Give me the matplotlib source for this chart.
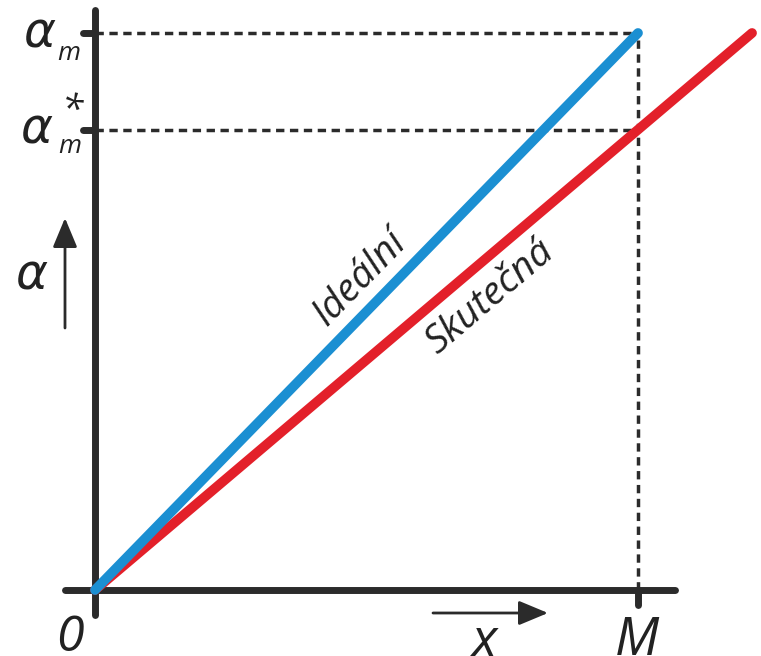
import matplotlib.pyplot as plt
import numpy as np

# line endpoints (x in units of M, alpha in units of alpha_m)
ideal_x = [0.0, 1.0]
ideal_alpha = [0.0, 1.0]
real_x = [0.0, 1.21]
real_alpha = [0.0, 1.0]
alpha_m = 1.0
alpha_m_star = 0.826
x_M = 1.0

AXIS = "#2b2b2b"
TEXT = "#222222"
BLUE = "#1b8fd2"
RED = "#e3202a"

# pixel -> data helpers (origin at pixel (95, 590), M = 543 px, alpha_m = 557 px)
def px(x):
    return (x - 95) / 543


def py(y):
    return (590 - y) / 557


fig = plt.figure(figsize=(7.61, 6.56), dpi=100)
ax = fig.add_axes([0, 0, 1, 1])
ax.set_xlim(px(0), px(761))
ax.set_ylim(py(656), py(0))
ax.axis("off")

# guide lines
dash = dict(color=AXIS, lw=2.5, ls=(0, (2.4, 1.6)), zorder=1)
ax.plot([0, x_M], [alpha_m, alpha_m], **dash)
ax.plot([0, x_M], [alpha_m_star, alpha_m_star], **dash)
ax.plot([x_M, x_M], [0, alpha_m], **dash)

# axes with ticks
solid = dict(color=AXIS, lw=5, solid_capstyle="round", zorder=3)
ax.plot([0, 0], [py(615), py(10)], **solid)
ax.plot([px(65), px(675)], [0, 0], **solid)
for y in (alpha_m, alpha_m_star):
    ax.plot([px(83), 0], [y, y], **solid)
ax.plot([x_M, x_M], [0, py(605)], **solid)

# characteristics
ax.plot(real_x, real_alpha, color=RED, lw=7, solid_capstyle="round", zorder=4)
ax.plot(ideal_x, ideal_alpha, color=BLUE, lw=7, solid_capstyle="round", zorder=4)

# direction arrows
arrow = dict(arrowstyle="-|>,head_length=0.6,head_width=0.25", color=AXIS, lw=2,
             mutation_scale=30, shrinkA=0, shrinkB=0)
ax.annotate("", xy=(px(65), py(218)), xytext=(px(65), py(328)), arrowprops=arrow)
ax.annotate("", xy=(px(548), py(613)), xytext=(px(433), py(613)), arrowprops=arrow)

greek = dict(fontfamily="DejaVu Sans", style="italic", color=TEXT, va="baseline", ha="left")
lbl = dict(fontfamily="Open Sans", style="italic", color=TEXT)

# alpha_m and alpha_m* tick labels
ax.text(px(24), py(47), "α", fontsize=35, **greek)
ax.text(px(57), py(60), "m", fontsize=19, **lbl, va="baseline", ha="left")
ax.text(px(21), py(143), "α", fontsize=35, **greek)
ax.text(px(58), py(153), "m", fontsize=19, **lbl, va="baseline", ha="left")
ax.text(px(73), py(112), "*", fontsize=28, **lbl, va="center", ha="center")

# axis labels
ax.text(px(16), py(290), "α", fontsize=35, **greek)
ax.text(px(70), py(651), "0", fontsize=36, ha="center", va="baseline", **lbl)
ax.text(px(485), py(656), "x", fontsize=38, ha="center", va="baseline", **lbl)
ax.text(px(637), py(655), "M", fontsize=38, ha="center", va="baseline", **lbl)

ang_ideal = np.degrees(np.arctan2(ideal_alpha[1], ideal_x[1]))
ang_real = np.degrees(np.arctan2(real_alpha[1], real_x[1]))
ax.text(px(360), py(278), "Ideální", fontsize=28, rotation=ang_ideal,
        transform_rotates_text=True, rotation_mode="anchor", ha="center", va="center", **lbl)
ax.text(px(490), py(297), "Skutečná", fontsize=28, rotation=ang_real,
        transform_rotates_text=True, rotation_mode="anchor", ha="center", va="center", **lbl)

fig.savefig("out.png", dpi=100)
